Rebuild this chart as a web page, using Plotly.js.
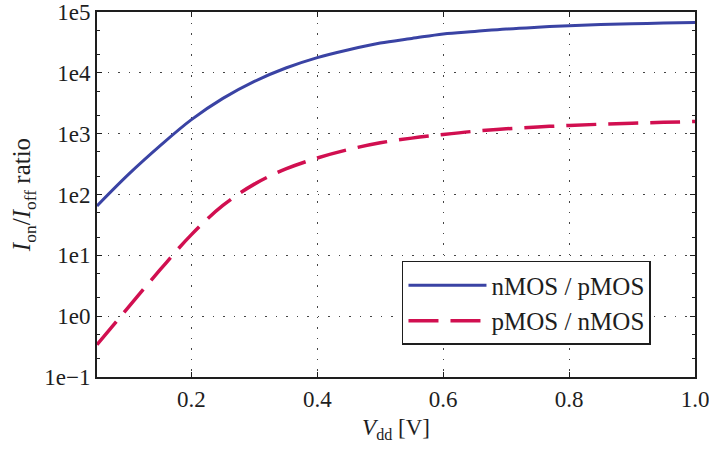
<!DOCTYPE html>
<html>
<head>
<meta charset="utf-8">
<script src="https://cdn.plot.ly/plotly-3.0.1.min.js"></script>
<style>html,body{margin:0;padding:0;background:#fff;}#chart{width:709px;height:449px;}</style>
</head>
<body>
<div id="chart"></div>
<script>
const vdd = [0.05, 0.1, 0.15, 0.2, 0.25, 0.3, 0.35, 0.4, 0.45, 0.5, 0.55, 0.6, 0.65, 0.7, 0.75, 0.8, 0.85, 0.9, 0.95, 1.0];
const nOverP = [65, 214, 630, 1700, 3800, 7240, 12000, 17800, 24000, 30900, 36700, 43650, 47900, 52500, 56200, 59600, 62100, 64100, 65800, 67300];
const pOverN = [0.34, 1.41, 5.75, 21.9, 66, 148, 263, 398, 550, 708, 845, 970, 1096, 1202, 1288, 1365, 1430, 1485, 1535, 1585];
const seriesNames = ["nMOS / pMOS", "pMOS / nMOS"];
const yTickVals = [0.1, 1, 10, 100, 1000, 10000, 100000];
const yTickText = ["1e\u22121", "1e0", "1e1", "1e2", "1e3", "1e4", "1e5"];
const xTickVals = [0.2, 0.4, 0.6, 0.8, 1.0];
const xTickText = ["0.2", "0.4", "0.6", "0.8", "1.0"];

const font = {family: "Liberation Serif, Times New Roman, serif", size: 23, color: "#1e1e1e"};

const traces = [
  {x: vdd, y: nOverP, name: seriesNames[0], type: "scatter", mode: "lines",
   line: {color: "#3a43a4", width: 3, shape: "spline", smoothing: 1}},
  {x: vdd, y: pOverN, name: seriesNames[1], type: "scatter", mode: "lines",
   line: {color: "#d10f50", width: 3.5, dash: "30px,12px", shape: "spline", smoothing: 1}}
];

const axisCommon = {
  ticks: "inside", ticklen: 5, tickwidth: 1, tickcolor: "#1e1e1e",
  showline: true, linecolor: "#1e1e1e", linewidth: 2, mirror: "ticks",
  showgrid: true, gridcolor: "#444", griddash: "1.5px,9px", gridwidth: 1.2,
  zeroline: false, tickfont: font, ticklabeloverflow: "allow"
};

const layout = {
  width: 709, height: 449,
  margin: {l: 97, r: 14, t: 12, b: 72},
  paper_bgcolor: "#fff", plot_bgcolor: "#fff",
  font: font,
  showlegend: true,
  legend: {x: 0.51, y: 0.088, xanchor: "left", yanchor: "bottom",
           bgcolor: "#fff", bordercolor: "#1e1e1e", borderwidth: 1.5,
           font: {family: font.family, size: 25, color: "#1e1e1e"}, itemwidth: 78, tracegroupgap: 0},
  xaxis: Object.assign({}, axisCommon, {
    range: [0.05, 1.0], tickvals: xTickVals, ticktext: xTickText,
    title: {text: "<i>V</i><sub>dd</sub> [V]", font: font, standoff: 8}
  }),
  yaxis: Object.assign({}, axisCommon, {
    type: "log", range: [-1, 5], tickvals: yTickVals, ticktext: yTickText,
    minor: {ticks: "inside", ticklen: 3, tickcolor: "#1e1e1e", showgrid: false},
    title: {text: "<i>I</i><sub>on</sub>/<i>I</i><sub>off</sub> ratio", font: {family: font.family, size: 25, color: "#1e1e1e"}, standoff: 6}
  })
};

Plotly.newPlot("chart", traces, layout, {displayModeBar: false, staticPlot: true});
</script>
</body>
</html>
